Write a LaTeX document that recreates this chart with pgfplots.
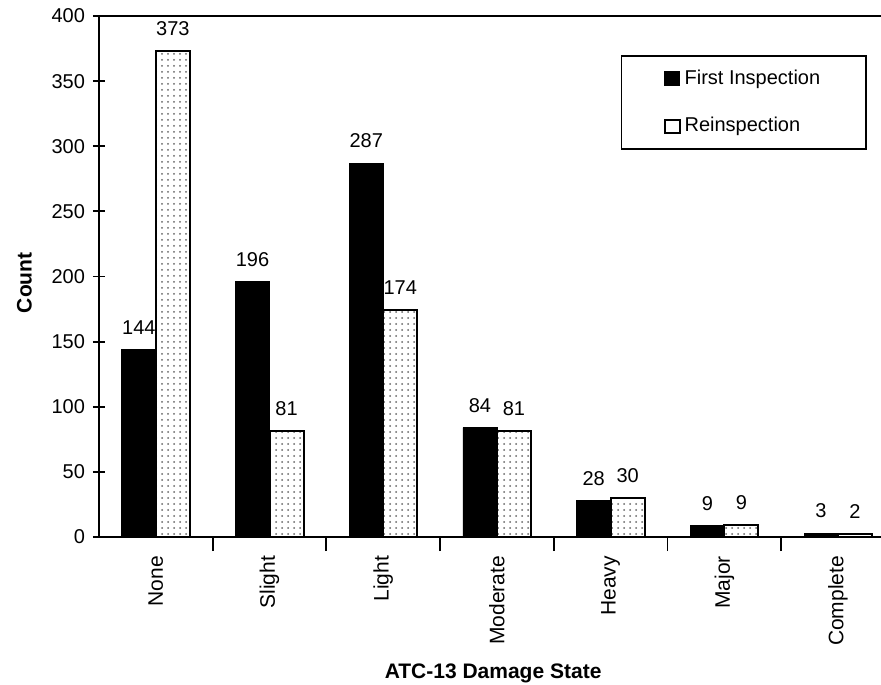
\documentclass[border=0pt]{standalone}
\usepackage{pgfplots}
\pgfplotsset{compat=1.18}
\usepackage{pgfplotstable}
\usetikzlibrary{patterns}
\usepackage{fontspec}
\setmainfont{Liberation Sans}

% ATC-13 damage state counts, first inspection and reinspection
\pgfplotstableread{
idx first re
0 144 373
1 196 81
2 287 174
3 84 81
4 28 30
5 9 9
6 3 2
}\damagedata

\begin{document}
\begin{tikzpicture}
\useasboundingbox (-49.5pt,-73.5pt) rectangle (391pt,268.5pt);
\begin{axis}[
  at={(0,0)}, anchor=south west,
  scale only axis,
  width=391pt, height=260.5pt,
  xmin=-0.5, xmax=6.378,
  ymin=0, ymax=400,
  ytick={0,50,...,400},
  xtick={0,...,6},
  xticklabels={None,Slight,Light,Moderate,Heavy,Major,Complete},
  minor xtick={0.5,1.5,...,5.5},
  major x tick style={draw=none},
  tick align=center,
  major tick length=6pt,
  minor tick length=7pt,
  every tick/.style={black, line width=0.9pt},
  axis x line*=bottom,
  axis y line*=left,
  axis line style={line width=1.2pt},
  font=\fontsize{10}{12}\selectfont,
  /pgf/number format/assume math mode=true,
  yticklabel style={xshift=-0.5pt},
  xticklabel style={rotate=90, anchor=east, xshift=0pt, font=\fontsize{10.5}{12}\selectfont},
  xlabel={\bfseries ATC-13 Damage State},
  ylabel={\bfseries Count},
  every axis x label/.style={at={(axis description cs:0.504,-0.261)}, anchor=center, font=\fontsize{10.5}{12}\selectfont},
  every axis y label/.style={at={(axis description cs:-0.0953,0.488)}, anchor=center, rotate=90, font=\fontsize{10.5}{12}\selectfont},
  ybar,
  bar width=17pt,
  nodes near coords,
  every node near coord/.append style={font=\fontsize{10}{12}\selectfont, yshift=4pt},
  legend cell align=left,
  legend style={at={(axis description cs:0.9821,0.925)}, anchor=north east,
    draw=black, line width=0.8pt, row sep=11pt,
    inner xsep=21pt, inner ysep=5pt,
    font=\fontsize{10}{12}\selectfont},
]
\addplot[fill=black, draw=black, bar shift=-8.5pt,
  legend image code/.code={\draw[fill=black, draw=black] (0pt,-3.3pt) rectangle (7.5pt,3.3pt);}]
  table[x=idx, y=first] {\damagedata};
\addlegendentry{First Inspection}
% legend key for the stippled series: a plain white square
\addplot[fill=white, draw=black, line width=1pt, bar shift=8.5pt,
  postaction={pattern=dots, pattern color=black!60},
  legend image code/.code={%
    \pgfsetfillcolor{white}\pgfsetstrokecolor{black}\pgfsetlinewidth{1pt}%
    \pgfpathrectangle{\pgfpoint{0pt}{-3.3pt}}{\pgfpoint{7.5pt}{6.6pt}}%
    \pgfusepath{fill,stroke}}]
  table[x=idx, y=re] {\damagedata};
\addlegendentry{Reinspection}
\draw[line width=1.2pt] (rel axis cs:0,1) -- (rel axis cs:1,1);
\end{axis}
\end{tikzpicture}
\end{document}
